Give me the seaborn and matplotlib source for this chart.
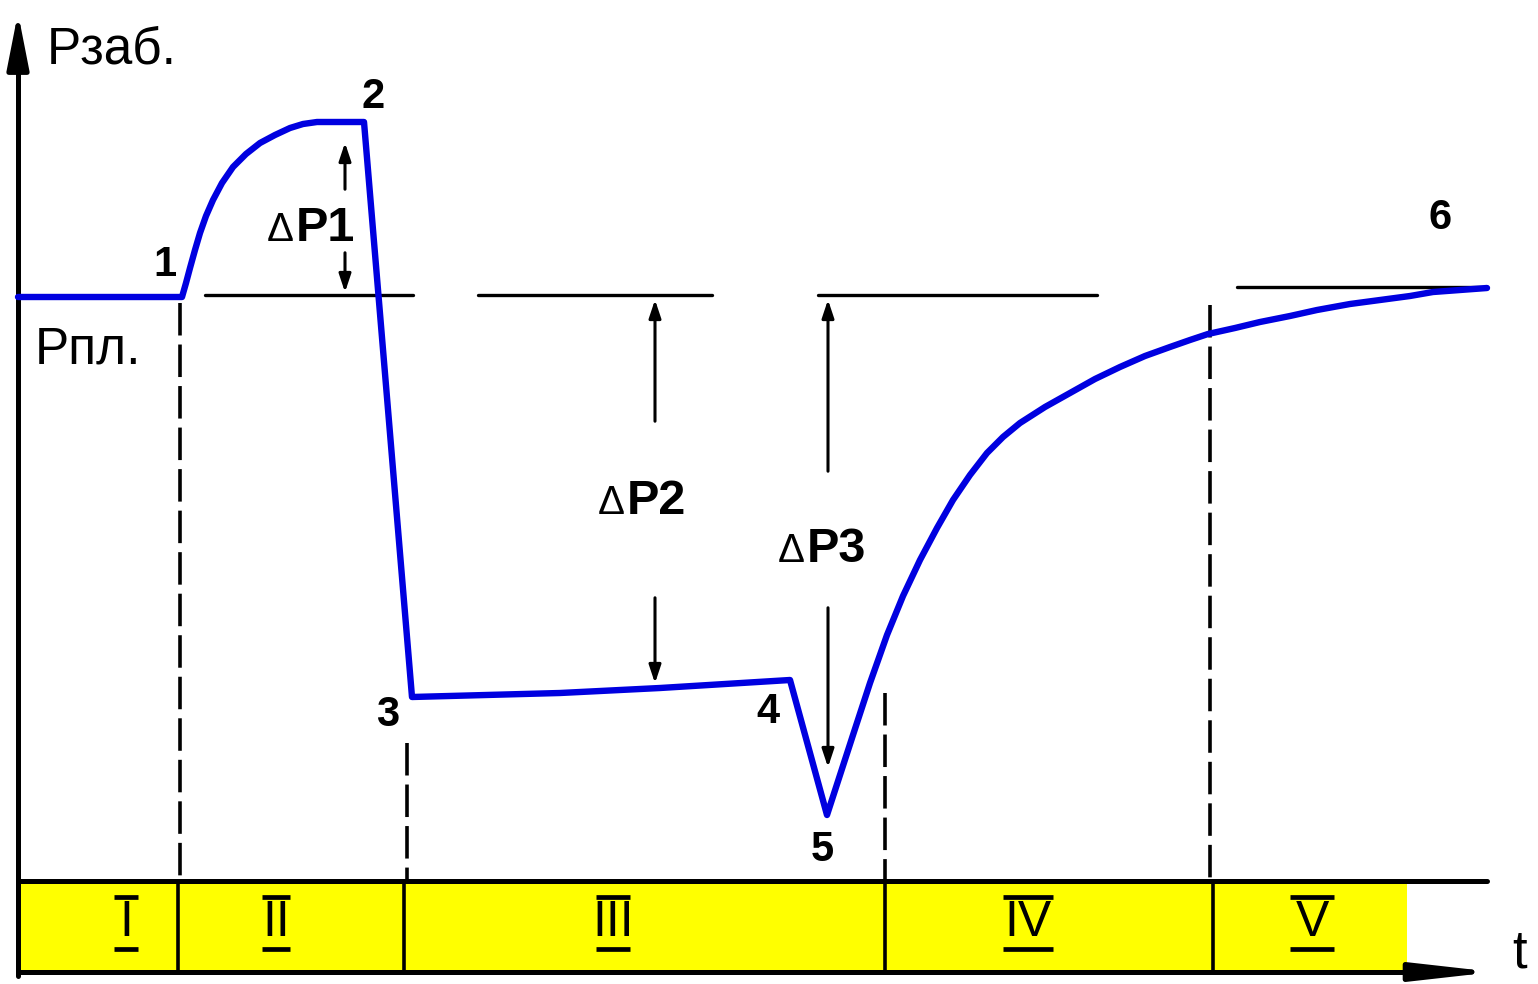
import matplotlib.pyplot as plt
import seaborn as sns
import pandas as pd

# curve (x = time in px, y = pressure in px, y grows down)
t_curve = [18, 182, 186, 190, 195, 200, 206, 213, 222, 233, 246, 260, 275, 290, 303,
           317, 364, 412, 560, 660, 790, 827, 840, 853, 870, 887, 903, 920, 937, 953,
           970, 987, 1003, 1020, 1045, 1070, 1095, 1120, 1145, 1170, 1190, 1208, 1235,
           1260, 1290, 1317, 1350, 1380, 1410, 1433, 1460, 1487]
p_curve = [297, 297, 283, 268, 250, 233, 216, 200, 183, 167, 154, 143, 135, 128, 124,
           122, 122, 697, 693, 688, 680, 815, 775, 735, 683, 635, 596, 560, 528, 500,
           475, 453, 437, 423, 407, 393, 379, 367, 356, 347, 340, 334, 328,
           322, 316, 310, 304, 300, 296, 292, 290, 288]

# reference level segments (Рпл.)
ref_x0 = [205, 478, 818, 1237]
ref_x1 = [413, 712, 1097, 1487]
ref_y = [295, 295, 295, 287]

# dashed phase boundaries
div_x = [180, 407, 885, 1210]
div_top = [303, 743, 693, 305]

# band dividers and phases
band_x = [18, 178, 404, 885, 1213, 1407]
phase_labels = ["I", "II", "III", "IV", "V"]
phase_x = [126, 276, 613, 1028, 1312]
phase_bar = [24, 28, 34, 50, 44]

# point labels
pt_labels = ["1", "2", "3", "4", "5", "6"]
pt_x = [165, 373, 388, 768, 822, 1440]
pt_y = [265, 97, 715, 712, 850, 218]

# delta-P dimension arrows: x, upper tip, upper shaft end, lower shaft start, lower tip
dp_labels = ["ΔP1", "ΔP2", "ΔP3"]
dp_x = [345, 655, 828]
dp_top = [140, 297, 297]
dp_top_end = [192, 424, 474]
dp_bot_start = [250, 595, 605]
dp_bot = [295, 686, 770]
dp_text_x = [296, 627, 807]
dp_text_y = [241, 514, 562]

sns.set_theme(style="white")
plt.rcParams['font.family'] = ['Liberation Sans', 'DejaVu Sans']

fig = plt.figure(figsize=(15.38, 9.84), dpi=100)
ax = fig.add_axes([0, 0, 1, 1])

# main curve
df = pd.DataFrame({"t": t_curve, "p": p_curve})
sns.lineplot(data=df, x="t", y="p", ax=ax, color='#0000e0', lw=4.6, sort=False,
             estimator=None, zorder=5)
ax.set_xlim(0, 1538)
ax.set_ylim(984, 0)
ax.axis('off')

# yellow band
ax.add_patch(plt.Rectangle((band_x[0], 882), band_x[-1] - band_x[0], 90,
                           facecolor='#ffff00', edgecolor='none', zorder=1))
ax.plot([18, 1487], [881, 881], color='black', lw=3.6, zorder=3)
ax.plot([18, 1440], [972, 972], color='black', lw=3.6, zorder=3)
ax.annotate("", xy=(1497, 972), xytext=(1425, 972),
            arrowprops=dict(arrowstyle='-|>,head_length=4.0,head_width=0.45',
                            color='black', lw=3.6), zorder=3)
for bx in band_x[1:-1]:
    ax.plot([bx, bx], [881, 972], color='black', lw=2.6, zorder=3)

# y axis with arrow
ax.plot([18, 18], [976, 60], color='black', lw=3.6, zorder=3)
ax.annotate("", xy=(18, 10), xytext=(18, 70),
            arrowprops=dict(arrowstyle='-|>,head_length=2.8,head_width=0.55',
                            color='black', lw=3.6), zorder=3)

# roman numerals with bars
for lab, x, w in zip(phase_labels, phase_x, phase_bar):
    ax.text(x, 923, lab, ha='center', va='center', fontsize=36, color='black',
            family=['Liberation Sans Narrow', 'Liberation Sans'], zorder=4)
    ax.plot([x - w / 2, x + w / 2], [897, 897], color='black', lw=3.4,
            solid_capstyle='butt', zorder=4)
    ax.plot([x - w / 2, x + w / 2], [949, 949], color='black', lw=3.4,
            solid_capstyle='butt', zorder=4)

# reference level
for x0, x1, y in zip(ref_x0, ref_x1, ref_y):
    ax.plot([x0, x1], [y, y], color='black', lw=2.4, zorder=2)

# dashed boundaries
for x, top in zip(div_x, div_top):
    ax.plot([x, x], [top, 880], color='black', lw=2.6, linestyle=(0, (9, 2.5)), zorder=2)

# delta-P arrows
arr = dict(arrowstyle='-|>,head_length=0.9,head_width=0.3', color='black', lw=2.2)
for x, a, b, c, d in zip(dp_x, dp_top, dp_top_end, dp_bot_start, dp_bot):
    ax.annotate("", xy=(x, a), xytext=(x, b), arrowprops=arr, zorder=3)
    ax.annotate("", xy=(x, d), xytext=(x, c), arrowprops=arr, zorder=3)
for lab, x, y in zip(dp_labels, dp_text_x, dp_text_y):
    ax.text(x - 2, y, "Δ", ha='right', va='baseline', fontsize=29, color='black', zorder=4)
    ax.text(x, y, lab[1:], ha='left', va='baseline', fontsize=35, fontweight='bold',
            color='black', zorder=4)

# point labels
for lab, x, y in zip(pt_labels, pt_x, pt_y):
    ax.text(x, y, lab, ha='center', va='center', fontsize=30, fontweight='bold',
            color='black', zorder=6)

ax.text(47, 50, "Рзаб.", ha='left', va='center', fontsize=37, color='black')
ax.text(35, 350, "Рпл.", ha='left', va='center', fontsize=37, color='black')
ax.text(1512, 953, "t", ha='left', va='center', fontsize=38, color='black')

fig.savefig("out.png", dpi=100, facecolor='white')
